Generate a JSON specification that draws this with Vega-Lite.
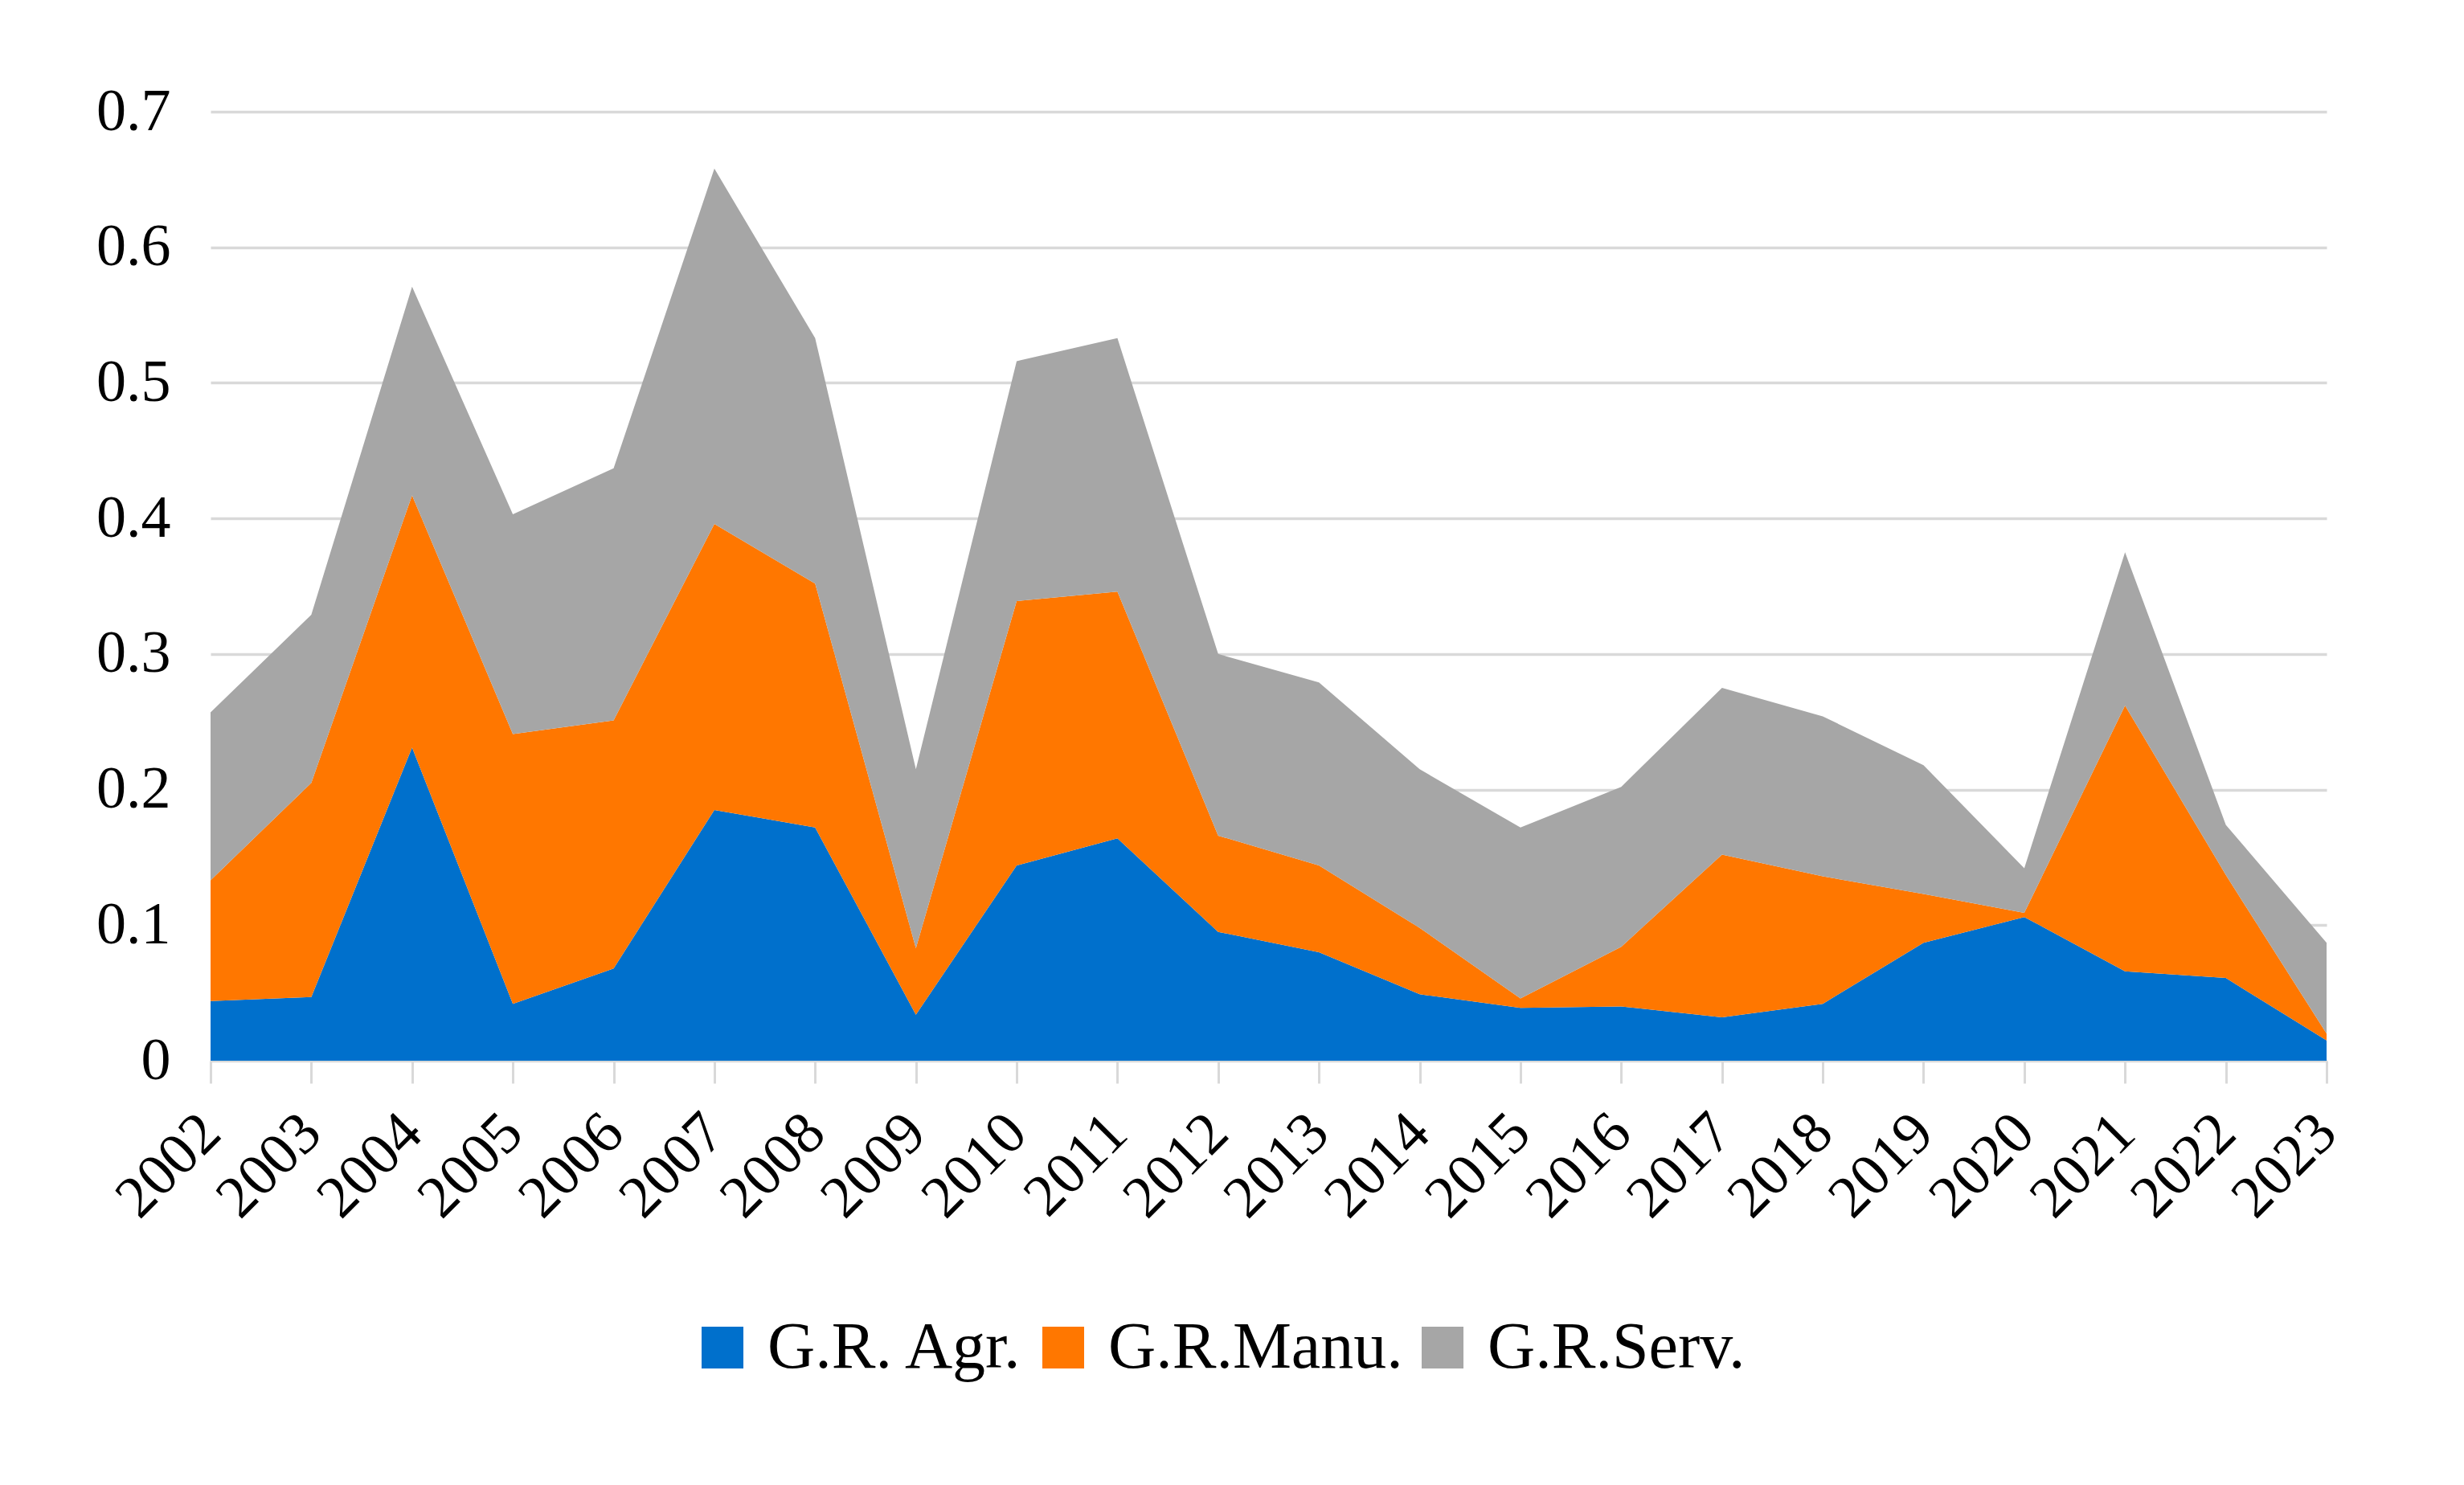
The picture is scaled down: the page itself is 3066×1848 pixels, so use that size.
{
  "$schema": "https://vega.github.io/schema/vega-lite/v6.json",
  "autosize": {"type": "none"},
  "padding": {"left": 262, "top": 139, "right": 171, "bottom": 528},
  "width": 2633,
  "height": 1181,
  "background": "white",
  "config": {
    "font": "Liberation Serif",
    "view": {"stroke": null}
  },
  "data": {
    "values": [
      {"year": "2002", "series": "G.R. Agr.", "ord": 1, "value": 0.044},
      {"year": "2002", "series": "G.R.Manu.", "ord": 2, "value": 0.089},
      {"year": "2002", "series": "G.R.Serv.", "ord": 3, "value": 0.124},
      {"year": "2003", "series": "G.R. Agr.", "ord": 1, "value": 0.047},
      {"year": "2003", "series": "G.R.Manu.", "ord": 2, "value": 0.158},
      {"year": "2003", "series": "G.R.Serv.", "ord": 3, "value": 0.124},
      {"year": "2004", "series": "G.R. Agr.", "ord": 1, "value": 0.231},
      {"year": "2004", "series": "G.R.Manu.", "ord": 2, "value": 0.186},
      {"year": "2004", "series": "G.R.Serv.", "ord": 3, "value": 0.154},
      {"year": "2005", "series": "G.R. Agr.", "ord": 1, "value": 0.042},
      {"year": "2005", "series": "G.R.Manu.", "ord": 2, "value": 0.199},
      {"year": "2005", "series": "G.R.Serv.", "ord": 3, "value": 0.162},
      {"year": "2006", "series": "G.R. Agr.", "ord": 1, "value": 0.068},
      {"year": "2006", "series": "G.R.Manu.", "ord": 2, "value": 0.183},
      {"year": "2006", "series": "G.R.Serv.", "ord": 3, "value": 0.186},
      {"year": "2007", "series": "G.R. Agr.", "ord": 1, "value": 0.185},
      {"year": "2007", "series": "G.R.Manu.", "ord": 2, "value": 0.211},
      {"year": "2007", "series": "G.R.Serv.", "ord": 3, "value": 0.262},
      {"year": "2008", "series": "G.R. Agr.", "ord": 1, "value": 0.172},
      {"year": "2008", "series": "G.R.Manu.", "ord": 2, "value": 0.180},
      {"year": "2008", "series": "G.R.Serv.", "ord": 3, "value": 0.181},
      {"year": "2009", "series": "G.R. Agr.", "ord": 1, "value": 0.034},
      {"year": "2009", "series": "G.R.Manu.", "ord": 2, "value": 0.049},
      {"year": "2009", "series": "G.R.Serv.", "ord": 3, "value": 0.132},
      {"year": "2010", "series": "G.R. Agr.", "ord": 1, "value": 0.144},
      {"year": "2010", "series": "G.R.Manu.", "ord": 2, "value": 0.195},
      {"year": "2010", "series": "G.R.Serv.", "ord": 3, "value": 0.177},
      {"year": "2011", "series": "G.R. Agr.", "ord": 1, "value": 0.164},
      {"year": "2011", "series": "G.R.Manu.", "ord": 2, "value": 0.182},
      {"year": "2011", "series": "G.R.Serv.", "ord": 3, "value": 0.187},
      {"year": "2012", "series": "G.R. Agr.", "ord": 1, "value": 0.095},
      {"year": "2012", "series": "G.R.Manu.", "ord": 2, "value": 0.071},
      {"year": "2012", "series": "G.R.Serv.", "ord": 3, "value": 0.134},
      {"year": "2013", "series": "G.R. Agr.", "ord": 1, "value": 0.080},
      {"year": "2013", "series": "G.R.Manu.", "ord": 2, "value": 0.064},
      {"year": "2013", "series": "G.R.Serv.", "ord": 3, "value": 0.135},
      {"year": "2014", "series": "G.R. Agr.", "ord": 1, "value": 0.049},
      {"year": "2014", "series": "G.R.Manu.", "ord": 2, "value": 0.049},
      {"year": "2014", "series": "G.R.Serv.", "ord": 3, "value": 0.117},
      {"year": "2015", "series": "G.R. Agr.", "ord": 1, "value": 0.039},
      {"year": "2015", "series": "G.R.Manu.", "ord": 2, "value": 0.007},
      {"year": "2015", "series": "G.R.Serv.", "ord": 3, "value": 0.126},
      {"year": "2016", "series": "G.R. Agr.", "ord": 1, "value": 0.040},
      {"year": "2016", "series": "G.R.Manu.", "ord": 2, "value": 0.044},
      {"year": "2016", "series": "G.R.Serv.", "ord": 3, "value": 0.118},
      {"year": "2017", "series": "G.R. Agr.", "ord": 1, "value": 0.032},
      {"year": "2017", "series": "G.R.Manu.", "ord": 2, "value": 0.120},
      {"year": "2017", "series": "G.R.Serv.", "ord": 3, "value": 0.123},
      {"year": "2018", "series": "G.R. Agr.", "ord": 1, "value": 0.042},
      {"year": "2018", "series": "G.R.Manu.", "ord": 2, "value": 0.094},
      {"year": "2018", "series": "G.R.Serv.", "ord": 3, "value": 0.118},
      {"year": "2019", "series": "G.R. Agr.", "ord": 1, "value": 0.087},
      {"year": "2019", "series": "G.R.Manu.", "ord": 2, "value": 0.036},
      {"year": "2019", "series": "G.R.Serv.", "ord": 3, "value": 0.095},
      {"year": "2020", "series": "G.R. Agr.", "ord": 1, "value": 0.106},
      {"year": "2020", "series": "G.R.Manu.", "ord": 2, "value": 0.003},
      {"year": "2020", "series": "G.R.Serv.", "ord": 3, "value": 0.033},
      {"year": "2021", "series": "G.R. Agr.", "ord": 1, "value": 0.066},
      {"year": "2021", "series": "G.R.Manu.", "ord": 2, "value": 0.196},
      {"year": "2021", "series": "G.R.Serv.", "ord": 3, "value": 0.113},
      {"year": "2022", "series": "G.R. Agr.", "ord": 1, "value": 0.061},
      {"year": "2022", "series": "G.R.Manu.", "ord": 2, "value": 0.076},
      {"year": "2022", "series": "G.R.Serv.", "ord": 3, "value": 0.037},
      {"year": "2023", "series": "G.R. Agr.", "ord": 1, "value": 0.015},
      {"year": "2023", "series": "G.R.Manu.", "ord": 2, "value": 0.005},
      {"year": "2023", "series": "G.R.Serv.", "ord": 3, "value": 0.067}
    ]
  },
  "mark": {"type": "area", "interpolate": "linear"},
  "encoding": {
    "x": {
      "field": "year",
      "type": "ordinal",
      "scale": {"type": "point", "padding": 0},
      "axis": {
        "title": null,
        "labelAngle": -45,
        "labelAlign": "right",
        "labelBaseline": "middle",
        "labelFontSize": 74,
        "labelColor": "#000000",
        "labelPadding": 50,
        "tickSize": 28,
        "tickWidth": 3,
        "tickColor": "#d9d9d9",
        "domainColor": "#d9d9d9",
        "domainWidth": 3,
        "grid": false,
        "labelOverlap": false
      }
    },
    "y": {
      "field": "value",
      "type": "quantitative",
      "stack": "zero",
      "scale": {"domain": [0, 0.7], "nice": false},
      "axis": {
        "title": null,
        "values": [0, 0.1, 0.2, 0.3, 0.4, 0.5, 0.6, 0.7],
        "labelExpr": "datum.value == 0 ? '0' : format(datum.value, '.1f')",
        "labelFontSize": 74,
        "labelColor": "#000000",
        "labelPadding": 50,
        "ticks": false,
        "domain": false,
        "grid": true,
        "gridColor": "#d9d9d9",
        "gridWidth": 3.5
      }
    },
    "color": {
      "field": "series",
      "type": "nominal",
      "scale": {
        "domain": ["G.R. Agr.", "G.R.Manu.", "G.R.Serv."],
        "range": ["#0070CC", "#FF7700", "#A6A6A6"]
      },
      "legend": {
        "title": null,
        "orient": "none",
        "legendX": 596,
        "legendY": 1497,
        "direction": "horizontal",
        "symbolType": "square",
        "symbolSize": 2704,
        "symbolStrokeWidth": 0,
        "symbolOpacity": 1,
        "labelFontSize": 82,
        "labelFont": "Liberation Serif",
        "labelColor": "#000000",
        "labelOffset": 15,
        "columnPadding": 8,
        "labelLimit": 0
      }
    },
    "order": {"field": "ord", "type": "quantitative"}
  }
}
